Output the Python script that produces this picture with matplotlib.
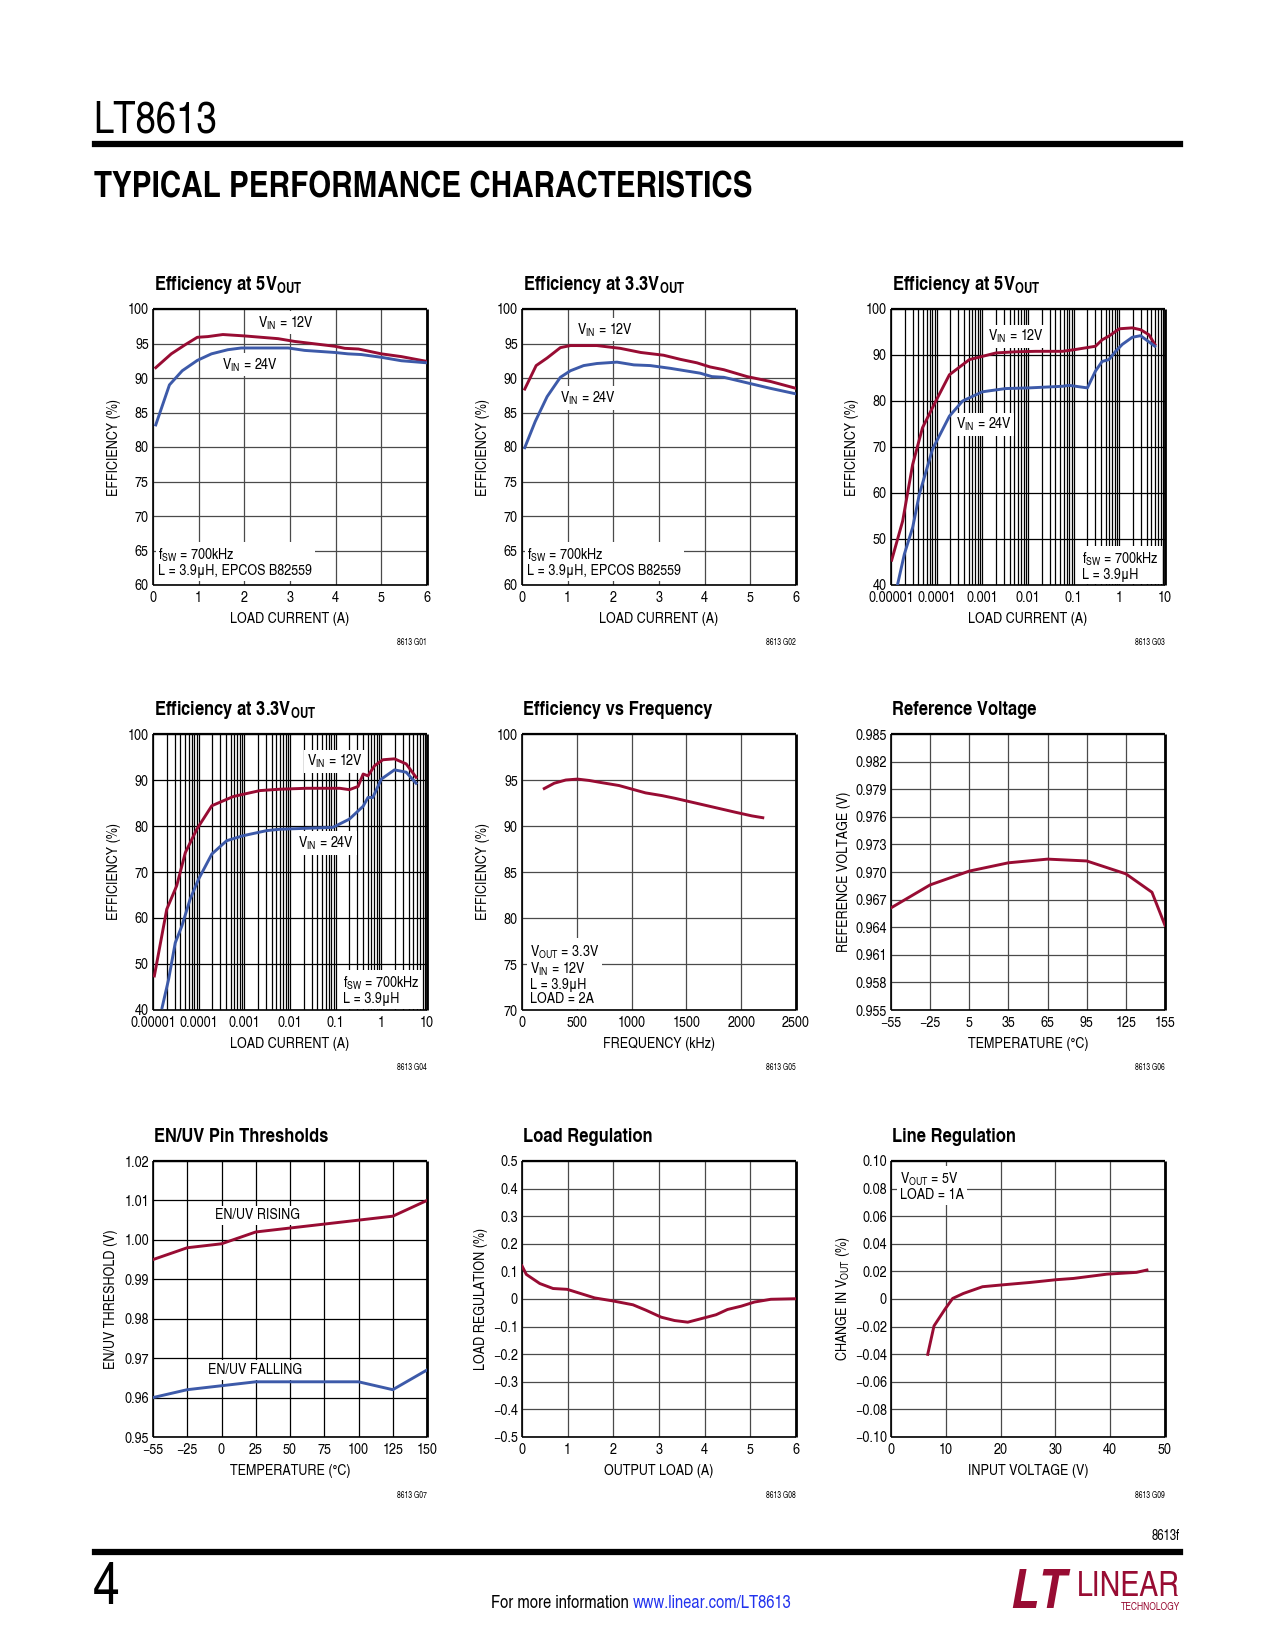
import numpy as np
import matplotlib
matplotlib.use('Agg')
import matplotlib.pyplot as plt
from matplotlib.lines import Line2D
from matplotlib.ticker import FixedLocator, LogLocator, NullFormatter

# Helvetica Condensed look-alike first, plain sans as fallback
NARROW = ['TeX Gyre Heros Cn', 'Roboto Condensed', 'Liberation Sans', 'DejaVu Sans']
plt.rcParams['font.family'] = NARROW

# ---- data ----
# G01 efficiency at 5Vout (linear load current)
g01_i12 = [0.06, 0.4, 0.7, 0.97, 1.2, 1.53, 2.0, 2.74, 3.1, 3.98, 4.2, 4.5, 5.0, 5.44, 6.0]
g01_e12 = [91.5, 93.5, 94.8, 95.9, 96.0, 96.3, 96.1, 95.7, 95.3, 94.6, 94.3, 94.2, 93.5, 93.1, 92.4]
g01_i24 = [0.06, 0.36, 0.64, 0.97, 1.28, 1.64, 1.93, 2.37, 2.96, 3.32, 3.98, 4.27, 4.56, 5.0, 5.44, 6.0]
g01_e24 = [83.2, 89.0, 91.05, 92.55, 93.5, 94.1, 94.35, 94.35, 94.35, 94.0, 93.7, 93.5, 93.4, 93.0, 92.5, 92.2]

# G02 efficiency at 3.3Vout
g02_i12 = [0.06, 0.31, 0.55, 0.84, 1.06, 1.64, 2.15, 2.6, 3.1, 3.47, 3.83, 4.12, 4.42, 4.93, 5.44, 6.0]
g02_e12 = [88.4, 91.8, 92.9, 94.4, 94.7, 94.7, 94.3, 93.7, 93.3, 92.7, 92.2, 91.6, 91.2, 90.2, 89.5, 88.5]
g02_i24 = [0.06, 0.29, 0.55, 0.84, 1.06, 1.35, 1.64, 2.08, 2.45, 2.81, 3.25, 3.9, 4.16, 4.42, 4.93, 5.44, 6.0]
g02_e24 = [79.9, 83.7, 87.3, 90.1, 91.05, 91.8, 92.1, 92.3, 91.9, 91.8, 91.4, 90.7, 90.2, 90.1, 89.3, 88.5, 87.7]

# G03 efficiency at 5Vout (log load current)
g03_i12 = [1.035e-5, 1.8e-5, 2.98e-5, 4.9e-5, 9.6e-5, 1.9e-4, 5.2e-4, 1e-3, 2e-3, 5.4e-3,
           0.0148, 0.057, 0.11, 0.30, 0.42, 0.59, 1.0, 1.92, 2.92, 4.45, 6.0]
g03_e12 = [45.4, 53.9, 66.2, 74.2, 80.0, 85.7, 89.0, 89.7, 90.45, 90.7,
           90.8, 90.8, 91.2, 91.9, 93.3, 94.1, 95.7, 95.9, 95.5, 94.4, 92.3]
g03_i24 = [1.4e-5, 1.96e-5, 2.98e-5, 4.17e-5, 8.1e-5, 1.9e-4, 3.7e-4, 1e-3, 3.2e-3, 0.0106,
           0.057, 0.079, 0.2, 0.30, 0.42, 0.59, 0.83, 1.16, 1.92, 2.92, 6.0]
g03_e24 = [40.2, 46.7, 52.5, 59.7, 69.5, 76.7, 80.0, 82.0, 82.7, 82.85,
           83.2, 83.4, 82.85, 86.5, 88.6, 89.0, 90.8, 92.3, 93.85, 94.2, 91.9]

# G04 efficiency at 3.3Vout (log load current)
g04_i12 = [1.07e-5, 2.0e-5, 3.3e-5, 5.1e-5, 9.1e-5, 1.94e-4, 3.5e-4, 5.7e-4, 9.5e-4, 2.2e-3,
           6e-3, 0.023, 0.063, 0.123, 0.2, 0.31, 0.4, 0.51, 0.71, 1.08, 1.94, 3.5, 5.76]
g04_e12 = [47.4, 61.9, 67.0, 74.2, 79.3, 84.4, 85.5, 86.4, 86.9, 87.7,
           88.0, 88.2, 88.2, 88.2, 87.9, 88.6, 91.3, 90.9, 93.1, 94.4, 94.6, 93.5, 90.6]
g04_i24 = [1.58e-5, 2.2e-5, 3.07e-5, 4.3e-5, 6.5e-5, 9.9e-5, 1.94e-4, 4.1e-4, 9.5e-4, 3.1e-3,
           6e-3, 0.023, 0.087, 0.2, 0.4, 0.51, 0.65, 1.0, 1.94, 3.5, 5.76]
g04_e24 = [40.5, 46.7, 54.6, 58.3, 64.1, 68.4, 73.9, 76.8, 77.9, 79.0,
           79.3, 79.5, 79.7, 81.5, 84.3, 86.2, 86.2, 90.2, 92.2, 91.7, 89.3]

# G05 efficiency vs switching frequency
g05_f = [203, 294, 400, 506, 612, 733, 885, 1006, 1127, 1279, 1400, 1582, 1764, 1945, 2097, 2197]
g05_e = [94.07, 94.65, 95.0, 95.1, 94.95, 94.7, 94.4, 94.0, 93.6, 93.3, 93.0, 92.5, 92.0, 91.5, 91.1, 90.9]

# G06 reference voltage vs temperature
g06_t = [-55, -25, 5, 35, 65, 95, 125, 145, 155]
g06_v = [0.9661, 0.9686, 0.9701, 0.9710, 0.9714, 0.9712, 0.9698, 0.9678, 0.9642]

# G07 EN/UV thresholds vs temperature
g07_t = [-55, -25, 0, 25, 50, 75, 100, 125, 150]
g07_rise = [0.995, 0.998, 0.999, 1.002, 1.003, 1.004, 1.005, 1.006, 1.010]
g07_fall = [0.960, 0.962, 0.963, 0.964, 0.964, 0.964, 0.964, 0.962, 0.967]

# G08 load regulation
g08_i = [0.0, 0.095, 0.39, 0.68, 0.99, 1.3, 1.59, 1.99, 2.43, 2.72, 3.05, 3.34, 3.63, 4.0,
         4.25, 4.5, 4.8, 5.09, 5.45, 6.0]
g08_r = [0.120, 0.089, 0.056, 0.038, 0.035, 0.019, 0.004, -0.007, -0.021, -0.041, -0.066,
         -0.078, -0.084, -0.068, -0.057, -0.038, -0.026, -0.011, -0.001, 0.001]

# G09 line regulation
g09_v = [6.7, 7.85, 9.85, 11.25, 13.2, 16.7, 20.5, 25.4, 30.2, 33.3, 39.4, 44.8, 46.7]
g09_d = [-0.0401, -0.0195, -0.0074, 0.0004, 0.004, 0.0089, 0.0103, 0.012, 0.014, 0.0149,
         0.018, 0.0193, 0.021]

RED = '#980c33'
BLUE = '#3d5aa9'
W, H = 1275, 1650
COLS = [153, 522, 891]
ROWS = [309, 734, 1161]
AW, AH = 274, 276

fig = plt.figure(figsize=(W / 100, H / 100), dpi=100)


def panel(col, row, title, code, grid='#4a4a4a', ydist=40):
    left, top = COLS[col], ROWS[row]
    ax = fig.add_axes([left / W, 1 - (top + AH) / H, AW / W, AH / H])
    ax.tick_params(which='both', length=0, labelsize=11)
    ax.tick_params(axis='x', pad=4.5)
    ax.tick_params(axis='y', pad=3)
    ax.grid(True, which='major', color=grid, lw=0.9)
    ax.set_axisbelow(True)
    for s in ax.spines.values():
        s.set_color('black')
        s.set_linewidth(1.2)
        s.set_capstyle('butt')
    ax.spines['right'].set_linewidth(2.0)
    ax.spines['top'].set_linewidth(1.6)
    fig.text((left + 1) / W, 1 - (top - 24) / H, title, fontsize=14.5,
             fontweight='bold', va='center')
    fig.text((left + AW) / W, 1 - (top + AH + 58) / H, code, fontsize=6,
             ha='right', va='center')
    ax.xaxis.set_label_coords(0.5, -27 / AH)
    ax.yaxis.set_label_coords(-(ydist - 6) / AW, 0.5)
    return ax


def note(ax, x, y, s, **kw):
    kw.setdefault('fontsize', 11)
    ax.text(x, y, s, bbox=dict(fc='white', ec='none', pad=2), zorder=3,
            linespacing=1.0, **kw)


def minus(v, fmt):
    return (fmt % v).replace('-', '\u2212')


def eff_linear(ax, i12, e12, i24, e24, xl):
    ax.plot(i12, e12, color=RED, lw=2.1, zorder=4)
    ax.plot(i24, e24, color=BLUE, lw=2.1, zorder=4)
    ax.set_xlim(0, 6)
    ax.set_ylim(60, 100)
    ax.set_xticks(range(7))
    ax.set_yticks(range(60, 101, 5))
    ax.set_xlabel(xl, fontsize=11)
    ax.set_ylabel('EFFICIENCY (%)', fontsize=11)


def eff_log(ax, i12, e12, i24, e24):
    ax.plot(i12, e12, color=RED, lw=2.1, zorder=4)
    ax.plot(i24, e24, color=BLUE, lw=2.1, zorder=4)
    ax.set_xscale('log')
    ax.set_xlim(1e-5, 10)
    ax.set_ylim(40, 100)
    ax.xaxis.set_major_locator(FixedLocator([1e-5, 1e-4, 1e-3, 1e-2, 0.1, 1, 10]))
    ax.set_xticklabels(['0.00001', '0.0001', '0.001', '0.01', '0.1', '1', '10'])
    ax.xaxis.set_minor_locator(LogLocator(base=10, subs=np.arange(2, 10), numticks=20))
    ax.xaxis.set_minor_formatter(NullFormatter())
    ax.grid(True, which='both', axis='x', color='black', lw=0.9)
    ax.grid(True, which='major', axis='y', color='black', lw=0.9)
    ax.set_yticks(range(40, 101, 10))
    ax.set_xlabel('LOAD CURRENT (A)', fontsize=11)
    ax.set_ylabel('EFFICIENCY (%)', fontsize=11)


# ---- G01 ----
ax = panel(0, 0, r'Efficiency at 5V$_\mathregular{OUT}$', '8613 G01', ydist=38)
eff_linear(ax, g01_i12, g01_e12, g01_i24, g01_e24, 'LOAD CURRENT (A)')
note(ax, 2.3, 98.0, r'V$_\mathregular{IN}$ = 12V', va='center')
note(ax, 1.5, 91.9, r'V$_\mathregular{IN}$ = 24V', va='center')
note(ax, 0.12, 65.6, 'f$_\\mathregular{SW}$ = 700kHz\nL = 3.9\u03bcH, EPCOS B82559', va='top')

# ---- G02 ----
ax = panel(1, 0, r'Efficiency at 3.3V$_\mathregular{OUT}$', '8613 G02', ydist=38)
eff_linear(ax, g02_i12, g02_e12, g02_i24, g02_e24, 'LOAD CURRENT (A)')
note(ax, 1.2, 97.0, r'V$_\mathregular{IN}$ = 12V', va='center')
note(ax, 0.84, 87.1, r'V$_\mathregular{IN}$ = 24V', va='center')
note(ax, 0.12, 65.6, 'f$_\\mathregular{SW}$ = 700kHz\nL = 3.9\u03bcH, EPCOS B82559', va='top')

# ---- G03 ----
ax = panel(2, 0, r'Efficiency at 5V$_\mathregular{OUT}$', '8613 G03', ydist=38)
eff_log(ax, g03_i12, g03_e12, g03_i24, g03_e24)
note(ax, 1.3e-3, 94.1, r'V$_\mathregular{IN}$ = 12V', va='center')
note(ax, 2.6e-4, 74.9, r'V$_\mathregular{IN}$ = 24V', va='center')
note(ax, 0.155, 47.6, 'f$_\\mathregular{SW}$ = 700kHz\nL = 3.9\u03bcH', va='top')

# ---- G04 ----
ax = panel(0, 1, r'Efficiency at 3.3V$_\mathregular{OUT}$', '8613 G04', ydist=38)
eff_log(ax, g04_i12, g04_e12, g04_i24, g04_e24)
note(ax, 0.023, 94.0, r'V$_\mathregular{IN}$ = 12V', va='center')
note(ax, 0.015, 76.3, r'V$_\mathregular{IN}$ = 24V', va='center')
note(ax, 0.145, 47.8, 'f$_\\mathregular{SW}$ = 700kHz\nL = 3.9\u03bcH', va='top')

# ---- G05 ----
ax = panel(1, 1, 'Efficiency vs Frequency', '8613 G05', ydist=38)
ax.plot(g05_f, g05_e, color=RED, lw=2.1, zorder=4)
ax.set_xlim(0, 2500)
ax.set_ylim(70, 100)
ax.set_xticks(range(0, 2501, 500))
ax.set_yticks(range(70, 101, 5))
ax.set_xlabel('FREQUENCY (kHz)', fontsize=11)
ax.set_ylabel('EFFICIENCY (%)', fontsize=11)
note(ax, 70, 77.3, 'V$_\\mathregular{OUT}$ = 3.3V\nV$_\\mathregular{IN}$ = 12V\nL = 3.9\u03bcH\nLOAD = 2A',
     va='top')

# ---- G06 ----
ax = panel(2, 1, 'Reference Voltage', '8613 G06', ydist=46)
ax.plot(g06_t, g06_v, color=RED, lw=2.1, zorder=4)
ax.set_xlim(-55, 155)
ax.set_ylim(0.955, 0.985)
ax.set_xticks(range(-55, 156, 30))
ax.set_xticklabels([minus(v, '%d') for v in range(-55, 156, 30)])
yt = np.arange(0.955, 0.9851, 0.003)
ax.set_yticks(yt)
ax.set_yticklabels(['%.3f' % v for v in yt])
ax.set_xlabel('TEMPERATURE (\u00b0C)', fontsize=11)
ax.set_ylabel('REFERENCE VOLTAGE (V)', fontsize=11)

# ---- G07 ----
ax = panel(0, 2, 'EN/UV Pin Thresholds', '8613 G07', grid='black', ydist=41)
pos = np.arange(len(g07_t))
ax.set_xscale('function', functions=(lambda t: np.interp(t, g07_t, pos),
                                     lambda p: np.interp(p, pos, g07_t)))
ax.plot(g07_t, g07_rise, color=RED, lw=2.1, zorder=4)
ax.plot(g07_t, g07_fall, color=BLUE, lw=2.1, zorder=4)
ax.set_xlim(-55, 150)
ax.set_ylim(0.95, 1.02)
ax.xaxis.set_major_locator(FixedLocator(g07_t))
ax.xaxis.set_minor_locator(FixedLocator([]))
ax.set_xticklabels([minus(v, '%d') for v in g07_t])
ax.set_yticks(np.arange(0.95, 1.0201, 0.01))
ax.set_yticklabels(['%.2f' % v for v in np.arange(0.95, 1.0201, 0.01)])
ax.set_xlabel('TEMPERATURE (\u00b0C)', fontsize=11)
ax.set_ylabel('EN/UV THRESHOLD (V)', fontsize=11)
note(ax, -5, 1.0062, 'EN/UV RISING', va='center')
note(ax, -10, 0.967, 'EN/UV FALLING', va='center')

# ---- G08 ----
ax = panel(1, 2, 'Load Regulation', '8613 G08', ydist=40)
ax.plot(g08_i, g08_r, color=RED, lw=2.1, zorder=4)
ax.set_xlim(0, 6)
ax.set_ylim(-0.5, 0.5)
ax.set_xticks(range(7))
yt = np.round(np.arange(-0.5, 0.501, 0.1), 1)
ax.set_yticks(yt)
ax.set_yticklabels(['0' if v == 0 else minus(v, '%.1f') for v in yt])
ax.set_xlabel('OUTPUT LOAD (A)', fontsize=11)
ax.set_ylabel('LOAD REGULATION (%)', fontsize=11)

# ---- G09 ----
ax = panel(2, 2, 'Line Regulation', '8613 G09', ydist=45)
ax.plot(g09_v, g09_d, color=RED, lw=2.1, zorder=4)
ax.set_xlim(0, 50)
ax.set_ylim(-0.10, 0.10)
ax.set_xticks(range(0, 51, 10))
yt = np.round(np.arange(-0.10, 0.1001, 0.02), 2)
ax.set_yticks(yt)
ax.set_yticklabels(['0' if v == 0 else minus(v, '%.2f') for v in yt])
ax.set_xlabel('INPUT VOLTAGE (V)', fontsize=11)
ax.set_ylabel(r'CHANGE IN V$_\mathregular{OUT}$ (%)', fontsize=11)
note(ax, 1.6, 0.093, 'V$_\\mathregular{OUT}$ = 5V\nLOAD = 1A', va='top')

# ---- page header ----
fig.text(93 / W, 1 - 121 / H, 'LT8613', fontsize=32, va='center')
fig.add_artist(Line2D([95 / W, 1180 / W], [1 - 144 / H] * 2, color='black', lw=4.5))
fig.text(94 / W, 1 - 189 / H, 'TYPICAL PERFORMANCE CHARACTERISTICS', fontsize=26,
         fontweight='bold', va='center')

# ---- page footer ----
fig.text(1180 / W, 1 - 1536 / H, '8613f', fontsize=10, ha='right', va='center')
fig.add_artist(Line2D([95 / W, 1180 / W], [1 - 1552 / H] * 2, color='black', lw=4.5))
fig.text(93 / W, 1 - 1589 / H, '4', fontsize=42, va='center')
t1 = fig.text(491 / W, 1 - 1604 / H, 'For more information', fontsize=13, va='center')
bb = t1.get_window_extent(fig.canvas.get_renderer())
fig.text((bb.x1 + 4) / W, 1 - 1604 / H, 'www.linear.com/LT8613', fontsize=13, va='center',
         color='#2233ee')
fig.text(1010 / W, 1 - 1594 / H, 'LT', fontsize=40, fontweight='bold', style='italic',
         color=RED, va='center')
fig.text(1180 / W, 1 - 1587 / H, 'LINEAR', fontsize=25, color=RED, ha='right', va='center')
fig.text(1180 / W, 1 - 1607 / H, 'TECHNOLOGY', fontsize=7.5, color=RED, ha='right',
         va='center')

fig.savefig('out.png', dpi=100, facecolor='white')
